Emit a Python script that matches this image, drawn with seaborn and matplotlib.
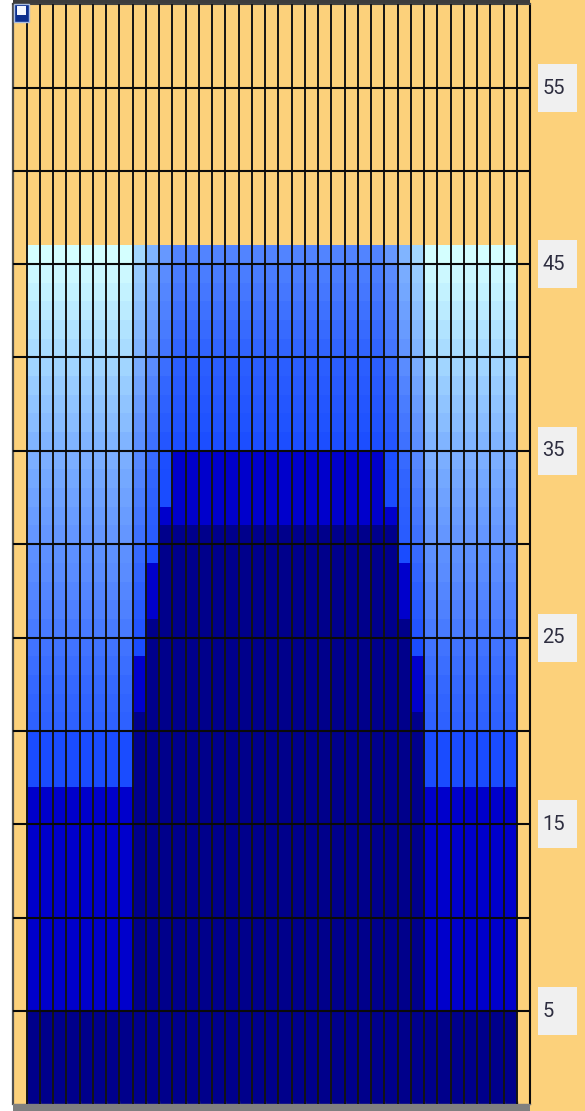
import numpy as np
import pandas as pd
import matplotlib
matplotlib.use("Agg")
import matplotlib.pyplot as plt
from matplotlib.colors import LinearSegmentedColormap
from matplotlib.patches import Rectangle
import seaborn as sns

# values per column group, row 0 = bottom ... row 45 = top of the filled part
edge = [0, 0, 0, 0, 0,
        1, 1, 1, 1, 1,
        1, 1, 1, 1, 1,
        1, 1, 2, 2, 2,
        2.8, 2.9, 3.05, 3.2, 3.35,
        3.55, 3.7, 3.85, 4.0, 4.1,
        4.25, 4.4, 4.55, 4.7, 4.85,
        5.0, 5.2, 5.4, 5.6, 5.8,
        6.0, 6.2, 6.4, 6.6, 6.8,
        7.0]
t1 = [0, 0, 0, 0, 0,
      0, 0, 0, 0, 0,
      0, 0, 0, 0, 0,
      0, 0, 0, 0, 0,
      0, 1, 1, 1, 2,
      2.3, 2.5, 2.7, 2.9, 3.1,
      3.3, 3.45, 3.6, 3.75, 3.9,
      4.05, 4.2, 4.4, 4.6, 4.8,
      5.0, 5.15, 5.3, 5.45, 5.6,
      5.9]
t2 = [0, 0, 0, 0, 0,
      0, 0, 0, 0, 0,
      0, 0, 0, 0, 0,
      0, 0, 0, 0, 0,
      0, 0, 0, 0, 0,
      0, 1, 1, 1, 2,
      2.6, 2.7, 2.8, 2.95, 3.1,
      3.3, 3.45, 3.6, 3.8, 4.0,
      4.2, 4.35, 4.5, 4.65, 4.8,
      5.0]
t3 = [0, 0, 0, 0, 0,
      0, 0, 0, 0, 0,
      0, 0, 0, 0, 0,
      0, 0, 0, 0, 0,
      0, 0, 0, 0, 0,
      0, 0, 0, 0, 0,
      0, 1, 2, 2, 2.1,
      2.4, 2.6, 2.8, 3.0, 3.2,
      3.4, 3.55, 3.7, 3.85, 4.0,
      4.3]
center = [0, 0, 0, 0, 0,
          0, 0, 0, 0, 0,
          0, 0, 0, 0, 0,
          0, 0, 0, 0, 0,
          0, 0, 0, 0, 0,
          0, 0, 0, 0, 0,
          0, 1, 1, 1, 1,
          2.1, 2.25, 2.4, 2.55, 2.7,
          2.9, 3.1, 3.3, 3.45, 3.6,
          3.8]

profiles = {"edge": edge, "t1": t1, "t2": t2, "t3": t3, "center": center}

# which profile each of the 39 columns uses (None = empty cell)
col_groups = ([None] + ["edge"] * 8 + ["t1", "t2", "t3"] + ["center"] * 16
              + ["t3", "t2", "t1"] + ["edge"] * 7 + [None])

# axis labels on the right
tick_pos = [5, 15, 25, 35, 45, 54.4]
tick_labels = ["5", "15", "25", "35", "45", "55"]
grid_levels = [5, 10, 15, 20, 25, 30, 35, 40, 45, 50, 54.4]

colors = ["#00008B", "#0000CD", "#1A4CFF", "#3366FF", "#5A8CFF",
          "#80B4FF", "#A8DCFF", "#D4FFFF"]
cmap = LinearSegmentedColormap.from_list("depth", colors)
orange = "#FCD17B"

grid = np.full((len(edge), len(col_groups)), np.nan)
for j, g in enumerate(col_groups):
    if g is not None:
        grid[:, j] = profiles[g]
df = pd.DataFrame(grid)

W, H = 585, 1111
fig = plt.figure(figsize=(W / 100, H / 100), dpi=100, facecolor="white")


def fr(x0, y0, x1, y1):
    # pixel box (top-left origin) -> figure fraction rect
    return x0 / W, 1 - y1 / H, (x1 - x0) / W, (y1 - y0) / H


ax = fig.add_axes(fr(13.3, 3.5, 530, 1104.4))
ax.set_facecolor(orange)

sns.heatmap(df, ax=ax, cmap=cmap, vmin=0, vmax=7, cbar=False,
            mask=df.isna(), xticklabels=False, yticklabels=False)
ax.set_xlim(0, len(col_groups))
ax.set_ylim(0, 1100.9 / 18.675)

for x in range(1, len(col_groups)):
    ax.axvline(x, color="#141414", lw=1.4, zorder=3)
for y in grid_levels:
    ax.axhline(y, color="#0a0a0a", lw=1.5, zorder=3)

ax.set_xticks(range(1, len(col_groups)))
ax.set_xticklabels([])
ax.set_yticks([])
ax.tick_params(axis="x", length=2.5, direction="in", color="#555555", width=1)
ax.set_xlabel("")
ax.set_ylabel("")
for side in ["left", "top", "right", "bottom"]:
    ax.spines[side].set_visible(True)
ax.spines["left"].set_color("#505050")
ax.spines["left"].set_linewidth(1.6)
ax.spines["right"].set_color("#0a0a0a")
ax.spines["right"].set_linewidth(1.5)
ax.spines["top"].set_color("#404040")
ax.spines["top"].set_linewidth(1.5)
ax.spines["bottom"].set_color("#7a7a7a")
ax.spines["bottom"].set_linewidth(1)

# right-hand label boxes
box_h = 48 / 18.675
for pos, lab in zip(tick_pos, tick_labels):
    ax.add_patch(Rectangle((1.0155, pos - box_h / 2), 0.0755, box_h,
                           transform=ax.get_yaxis_transform(), clip_on=False,
                           facecolor="#F0F0F0", edgecolor="none", zorder=5))
    ax.text(1.024, pos, lab, transform=ax.get_yaxis_transform(),
            ha="left", va="center", fontsize=14.5, color="#2E2E40",
            family=["Roboto", "DejaVu Sans"], zorder=6)

# frame pieces around the grid
fig.add_artist(Rectangle(fr(530, 0, 585, 1111)[:2], 55 / W, 1,
                         transform=fig.transFigure, facecolor=orange,
                         edgecolor="none", zorder=-1))
x0, y0, w, h = fr(13, 1104.4, 530, 1111)
fig.add_artist(Rectangle((x0, y0), w, h, transform=fig.transFigure,
                         facecolor="#808080", edgecolor="none"))
x0, y0, w, h = fr(13, 0, 530, 3)
fig.add_artist(Rectangle((x0, y0), w, h, transform=fig.transFigure,
                         facecolor="#3c3c3c", edgecolor="none"))

# small window icon, top left
x0, y0, w, h = fr(14, 4, 29, 22)
fig.add_artist(Rectangle((x0, y0), w, h, transform=fig.transFigure,
                         facecolor="#0B2E8E", edgecolor="#A8BCE0", lw=1, zorder=4))
x0, y0, w, h = fr(17, 6, 26, 15)
fig.add_artist(Rectangle((x0, y0), w, h, transform=fig.transFigure,
                         facecolor="#F2F6FF", edgecolor="none", zorder=5))

fig.savefig("out.png", dpi=100)
